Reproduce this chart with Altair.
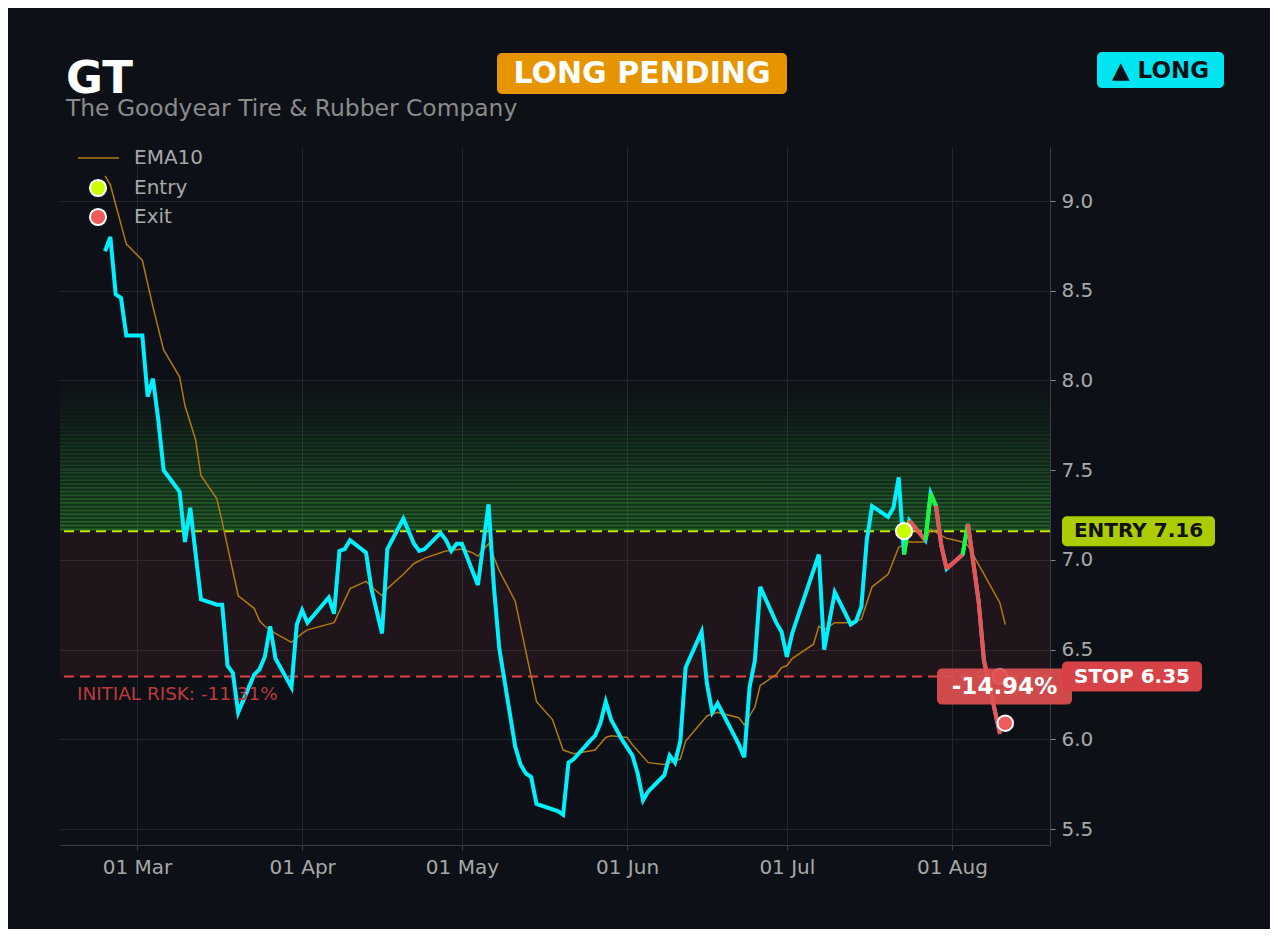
import altair as alt
import pandas as pd

# ---------------- data ----------------
price_dates = [
    "2024-02-24", "2024-02-25", "2024-02-26", "2024-02-27", "2024-02-28",
    "2024-03-02", "2024-03-03", "2024-03-04", "2024-03-05", "2024-03-06",
    "2024-03-09", "2024-03-10", "2024-03-11", "2024-03-13", "2024-03-16",
    "2024-03-17", "2024-03-18", "2024-03-19", "2024-03-20", "2024-03-23",
    "2024-03-24", "2024-03-25", "2024-03-26", "2024-03-27", "2024-03-30",
    "2024-03-31", "2024-04-01", "2024-04-02", "2024-04-06", "2024-04-07",
    "2024-04-08", "2024-04-09", "2024-04-10", "2024-04-13", "2024-04-14",
    "2024-04-16", "2024-04-17", "2024-04-20", "2024-04-22", "2024-04-23",
    "2024-04-24", "2024-04-27", "2024-04-28", "2024-04-29", "2024-04-30",
    "2024-05-01", "2024-05-04", "2024-05-06", "2024-05-07", "2024-05-08",
    "2024-05-11", "2024-05-12", "2024-05-13", "2024-05-14", "2024-05-15",
    "2024-05-19", "2024-05-20", "2024-05-21", "2024-05-22", "2024-05-25",
    "2024-05-26", "2024-05-27", "2024-05-28", "2024-05-29", "2024-05-31",
    "2024-06-02", "2024-06-03", "2024-06-04", "2024-06-05", "2024-06-08",
    "2024-06-09", "2024-06-10", "2024-06-11", "2024-06-12", "2024-06-15",
    "2024-06-16", "2024-06-17", "2024-06-18", "2024-06-22", "2024-06-23",
    "2024-06-24", "2024-06-25", "2024-06-26", "2024-06-29", "2024-06-30",
    "2024-07-01", "2024-07-02", "2024-07-07", "2024-07-08", "2024-07-10",
    "2024-07-13", "2024-07-14", "2024-07-15", "2024-07-16", "2024-07-17",
    "2024-07-20", "2024-07-21", "2024-07-22", "2024-07-23", "2024-07-24",
    "2024-07-27", "2024-07-28", "2024-07-29", "2024-07-30", "2024-07-31",
    "2024-08-03", "2024-08-04", "2024-08-06", "2024-08-07", "2024-08-10",
]
price_values = [
    8.72, 8.80, 8.48, 8.46, 8.25,
    8.25, 7.91, 8.01, 7.78, 7.50,
    7.38, 7.10, 7.29, 6.78, 6.75,
    6.75, 6.41, 6.37, 6.15, 6.36,
    6.39, 6.46, 6.63, 6.45, 6.29,
    6.64, 6.72, 6.65, 6.79, 6.70,
    7.05, 7.06, 7.11, 7.04, 6.84,
    6.59, 7.06, 7.23, 7.09, 7.05,
    7.06, 7.15, 7.11, 7.05, 7.09,
    7.09, 6.86, 7.31, 6.85, 6.51,
    5.96, 5.86, 5.81, 5.79, 5.64,
    5.60, 5.58, 5.87, 5.89, 5.99,
    6.02, 6.09, 6.21, 6.11, 6.00,
    5.91, 5.81, 5.66, 5.71, 5.80,
    5.91, 5.87, 5.99, 6.40, 6.60,
    6.31, 6.15, 6.20, 5.97, 5.90,
    6.29, 6.44, 6.85, 6.65, 6.60,
    6.46, 6.59, 7.03, 6.50, 6.82,
    6.64, 6.66, 6.74, 7.11, 7.30,
    7.24, 7.29, 7.46, 7.03, 7.22,
    7.11, 7.37, 7.30, 7.08, 6.95,
    7.03, 7.20, 6.77, 6.44, 6.03,
]

ema_dates = [
    "2024-02-24", "2024-02-25", "2024-02-28", "2024-03-02", "2024-03-03",
    "2024-03-04", "2024-03-06", "2024-03-09", "2024-03-10", "2024-03-12",
    "2024-03-13", "2024-03-16", "2024-03-17", "2024-03-20", "2024-03-23",
    "2024-03-24", "2024-03-25", "2024-03-27", "2024-03-30", "2024-04-01",
    "2024-04-02", "2024-04-07", "2024-04-10", "2024-04-13", "2024-04-14",
    "2024-04-16", "2024-04-17", "2024-04-20", "2024-04-22", "2024-04-24",
    "2024-04-27", "2024-04-28", "2024-05-01", "2024-05-03", "2024-05-04",
    "2024-05-06", "2024-05-08", "2024-05-11", "2024-05-15", "2024-05-18",
    "2024-05-20", "2024-05-22", "2024-05-26", "2024-05-28", "2024-05-29",
    "2024-06-01", "2024-06-02", "2024-06-05", "2024-06-08", "2024-06-11",
    "2024-06-12", "2024-06-16", "2024-06-18", "2024-06-22", "2024-06-23",
    "2024-06-25", "2024-06-26", "2024-06-29", "2024-06-30", "2024-07-01",
    "2024-07-02", "2024-07-06", "2024-07-07", "2024-07-08", "2024-07-10",
    "2024-07-13", "2024-07-15", "2024-07-17", "2024-07-20", "2024-07-22",
    "2024-07-24", "2024-07-27", "2024-07-28", "2024-07-31", "2024-08-03",
    "2024-08-04", "2024-08-07", "2024-08-10", "2024-08-11",
]
ema_values = [
    9.14, 9.09, 8.76, 8.67, 8.54,
    8.41, 8.17, 8.02, 7.86, 7.67,
    7.47, 7.34, 7.21, 6.80, 6.73,
    6.66, 6.63, 6.59, 6.54, 6.59,
    6.61, 6.65, 6.84, 6.88, 6.85,
    6.80, 6.84, 6.92, 6.98, 7.01,
    7.04, 7.05, 7.06, 7.04, 7.02,
    7.09, 6.94, 6.77, 6.21, 6.11,
    5.94, 5.92, 5.94, 6.01, 6.02,
    6.01, 5.97, 5.87, 5.86, 5.89,
    5.99, 6.13, 6.15, 6.12, 6.08,
    6.18, 6.30, 6.36, 6.40, 6.41,
    6.45, 6.53, 6.63, 6.61, 6.65,
    6.65, 6.67, 6.85, 6.92, 7.07,
    7.10, 7.10, 7.17, 7.12, 7.10,
    7.08, 6.92, 6.76, 6.64,
]

# colours of the in-trade segments (from the entry day onward)
trade_segment_colors = [
    "#1cf53c", "#f05050", "#1cf53c", "#1cf53c", "#f05050", "#f05050",
    "#f05050", "#1cf53c", "#f05050", "#f05050", "#f05050",
]

entry_date, entry_price = "2024-07-23", 7.16
stop_price = 6.35
band_top = 8.0
exit_date, exit_price = "2024-08-11", 6.09
stop_hit_date = "2024-08-10"

ticker = "GT"
company = "The Goodyear Tire & Rubber Company"
status_text = "LONG PENDING"
side_text = "\u25b2 LONG"
entry_label = "ENTRY 7.16"
stop_label = "STOP 6.35"
result_label = "-14.94%"
risk_label = "INITIAL RISK: -11.31%"
legend_labels = ["EMA10", "Entry", "Exit"]

month_ticks = ["2024-03-01", "2024-04-01", "2024-05-01", "2024-06-01", "2024-07-01", "2024-08-01"]
y_ticks = [5.5, 6.0, 6.5, 7.0, 7.5, 8.0, 8.5, 9.0]

# ---------------- styling ----------------
W, H = 990, 698
BG = "#0d1117"
FONT = "DejaVu Sans"
CYAN = "#00f0ff"
EMA_C = "#b07a12"
LABEL_C = "#a8a8a8"
GRID_C = "#22262d"
N_STRIPES = 40


def ms(s):
    return int(pd.Timestamp(s, tz="UTC").timestamp() * 1000)


xscale = alt.Scale(type="utc", domain=[ms("2024-02-15 13:05"), ms("2024-08-19 09:36")])
yscale = alt.Scale(domain=[5.411, 9.301], nice=False, zero=False)

xaxis = alt.Axis(values=[ms(s) for s in month_ticks],
                 labelExpr="utcFormat(datum.value, '%d %b')",
                 title=None, labelColor=LABEL_C, labelFontSize=20, labelFont=FONT,
                 labelPadding=7, grid=True, gridColor=GRID_C, domainColor="#3a3e46",
                 tickColor="#3a3e46", tickSize=5)
yaxis = alt.Axis(orient="right", values=y_ticks, format=".1f", title=None,
                 labelColor=LABEL_C, labelFontSize=20, labelFont=FONT, labelPadding=6,
                 grid=True, gridColor=GRID_C, domainColor="#3a3e46",
                 tickColor="#8a8a8a", tickSize=5)


def X(f="date"):
    return alt.X(f + ":T", scale=xscale, axis=xaxis)


def Y(f="price"):
    return alt.Y(f + ":Q", scale=yscale, axis=yaxis)


price_df = pd.DataFrame({"date": price_dates, "price": price_values})
ema_df = pd.DataFrame({"date": ema_dates, "price": ema_values})

start = price_dates.index(entry_date)
seg_rows = []
for k, col in enumerate(trade_segment_colors):
    i = start + k
    for j in (i, i + 1):
        seg_rows.append({"date": price_dates[j], "price": price_values[j], "seg": k, "c": col})
seg_df = pd.DataFrame(seg_rows)

# stripe levels of the decorative gradient band (style only)
step = (band_top - entry_price) / N_STRIPES
stripe_df = pd.DataFrame({
    "v": [entry_price + (i + 0.5) * step for i in range(N_STRIPES)],
    "o": [0.34 * (1 - i / N_STRIPES) ** 1.3 for i in range(N_STRIPES)],
})

green_grad = alt.LinearGradient(
    gradient="linear", x1=0, x2=0, y1=0, y2=1,
    stops=[alt.GradientStop(offset=0, color="rgba(60,200,60,0.0)"),
           alt.GradientStop(offset=0.3, color="rgba(60,200,60,0.05)"),
           alt.GradientStop(offset=1, color="rgba(60,200,60,0.22)")])

layers = []
one = pd.DataFrame({"a": [0]})

layers.append(alt.Chart(pd.DataFrame({"hi": [band_top], "lo": [entry_price]}))
              .mark_rect(fill=green_grad)
              .encode(y=Y("hi"), y2="lo:Q", x=alt.value(0), x2=alt.value(W)))
layers.append(alt.Chart(stripe_df)
              .mark_rule(color="#3cc83c", strokeWidth=1.6)
              .encode(y=Y("v"), opacity=alt.Opacity("o:Q", scale=None)))
layers.append(alt.Chart(pd.DataFrame({"hi": [entry_price], "lo": [stop_price]}))
              .mark_rect(fill="#d03a48", opacity=0.1)
              .encode(y=Y("hi"), y2="lo:Q", x=alt.value(0), x2=alt.value(W)))
layers.append(alt.Chart(pd.DataFrame({"v": [entry_price]}))
              .mark_rule(color="#c8e600", strokeDash=[10, 6], strokeWidth=2)
              .encode(y=Y("v")))
layers.append(alt.Chart(pd.DataFrame({"v": [stop_price]}))
              .mark_rule(color="#e04545", strokeDash=[10, 6], strokeWidth=2)
              .encode(y=Y("v")))

layers.append(alt.Chart(ema_df).mark_line(color=EMA_C, strokeWidth=1.5)
              .encode(x=X(), y=Y()))
layers.append(alt.Chart(price_df).mark_line(color=CYAN, strokeWidth=4)
              .encode(x=X(), y=Y()))
layers.append(alt.Chart(seg_df).mark_line(strokeWidth=4)
              .encode(x=X(), y=Y(), detail="seg:N", color=alt.Color("c:N", scale=None)))

# stop-hit marker, result badge
layers.append(alt.Chart(pd.DataFrame({"date": [stop_hit_date], "price": [stop_price]}))
              .mark_point(shape="circle", filled=True, size=230, fill="#e85050",
                          stroke="white", strokeWidth=1.5, opacity=1)
              .encode(x=X(), y=Y()))


def datum_box(val, x1, x2, off1, off2, color, opacity=1.0):
    return (alt.Chart(pd.DataFrame({"v": [val]}))
            .mark_rect(color=color, cornerRadius=5, opacity=opacity, yOffset=off1, y2Offset=off2)
            .encode(y=Y("v"), y2="v:Q", x=alt.value(x1), x2=alt.value(x2)))


def datum_text(val, text, x, dy, size, color, weight="bold", align="center"):
    return (alt.Chart(pd.DataFrame({"v": [val], "t": [text]}))
            .mark_text(align=align, baseline="middle", dy=dy, fontSize=size, fontWeight=weight,
                       color=color, font=FONT)
            .encode(y=Y("v"), x=alt.value(x), text="t:N"))


layers.append(datum_box(stop_price, 877, 1012, -8, 28, "#e05050", 0.92))
layers.append(datum_text(stop_price, result_label, 944.5, 10, 23, "white"))
layers.append(datum_box(entry_price, 1002, 1155, -15, 15, "#aacc00"))
layers.append(datum_text(entry_price, entry_label, 1078.5, 0, 20, "#111111"))
layers.append(datum_box(stop_price, 1002, 1142, -15, 15, "#d64246"))
layers.append(datum_text(stop_price, stop_label, 1072, 0, 20, "white"))
layers.append(datum_text(stop_price, risk_label, 17, 17, 18.4, "#bf3a3a", weight="normal", align="left"))

layers.append(alt.Chart(pd.DataFrame({"date": [entry_date], "price": [entry_price]}))
              .mark_point(shape="circle", filled=True, size=260, fill="#ccff00",
                          stroke="white", strokeWidth=2, opacity=1)
              .encode(x=X(), y=Y()))
layers.append(alt.Chart(pd.DataFrame({"date": [exit_date], "price": [exit_price]}))
              .mark_point(shape="circle", filled=True, size=240, fill="#f05a5a",
                          stroke="white", strokeWidth=2, opacity=1)
              .encode(x=X(), y=Y()))


def txt(text, x, y, size, color, weight="normal", align="left", baseline="alphabetic"):
    return (alt.Chart(pd.DataFrame({"t": [text]}))
            .mark_text(align=align, baseline=baseline, fontSize=size, fontWeight=weight,
                       color=color, font=FONT)
            .encode(x=alt.value(x), y=alt.value(y), text="t:N"))


def box(x1, x2, y1, y2, color):
    return (alt.Chart(one).mark_rect(color=color, cornerRadius=5)
            .encode(x=alt.value(x1), x2=alt.value(x2), y=alt.value(y1), y2=alt.value(y2)))


# header
layers.append(txt(ticker, 6, -54, 45, "white", weight="bold"))
layers.append(txt(company, 6, -31, 23.4, "#8b8b8b"))
layers.append(box(437, 727, -94, -53, "#e69500"))
layers.append(txt(status_text, 582, -73, 30, "white", weight="bold", align="center", baseline="middle"))
layers.append(box(1037, 1164, -95, -59, "#00e5f0"))
layers.append(txt(side_text, 1100.5, -76.5, 23, "#0d1117", weight="bold", align="center", baseline="middle"))

# legend
layers.append(alt.Chart(one).mark_rule(color=EMA_C, strokeWidth=1.5)
              .encode(x=alt.value(18), x2=alt.value(59), y=alt.value(11)))
layers.append(alt.Chart(one).mark_point(shape="circle", filled=True, size=260, fill="#ccff00",
                                         stroke="white", strokeWidth=2, opacity=1)
              .encode(x=alt.value(38), y=alt.value(41)))
layers.append(alt.Chart(one).mark_point(shape="circle", filled=True, size=260, fill="#f05a5a",
                                         stroke="white", strokeWidth=2, opacity=1)
              .encode(x=alt.value(38), y=alt.value(70)))
for lab, yy in zip(legend_labels, [11, 41, 70]):
    layers.append(txt(lab, 74, yy, 20, LABEL_C, baseline="middle"))

chart = (alt.layer(*layers)
         .properties(width=W, height=H, background=BG,
                     padding={"left": 52, "top": 139, "right": 220, "bottom": 84},
                     autosize=alt.AutoSizeParams(type="none"))
         .configure(font=FONT)
         .configure_view(strokeWidth=0))

chart.save("out.html", embed_options={"renderer": "svg", "actions": False})
